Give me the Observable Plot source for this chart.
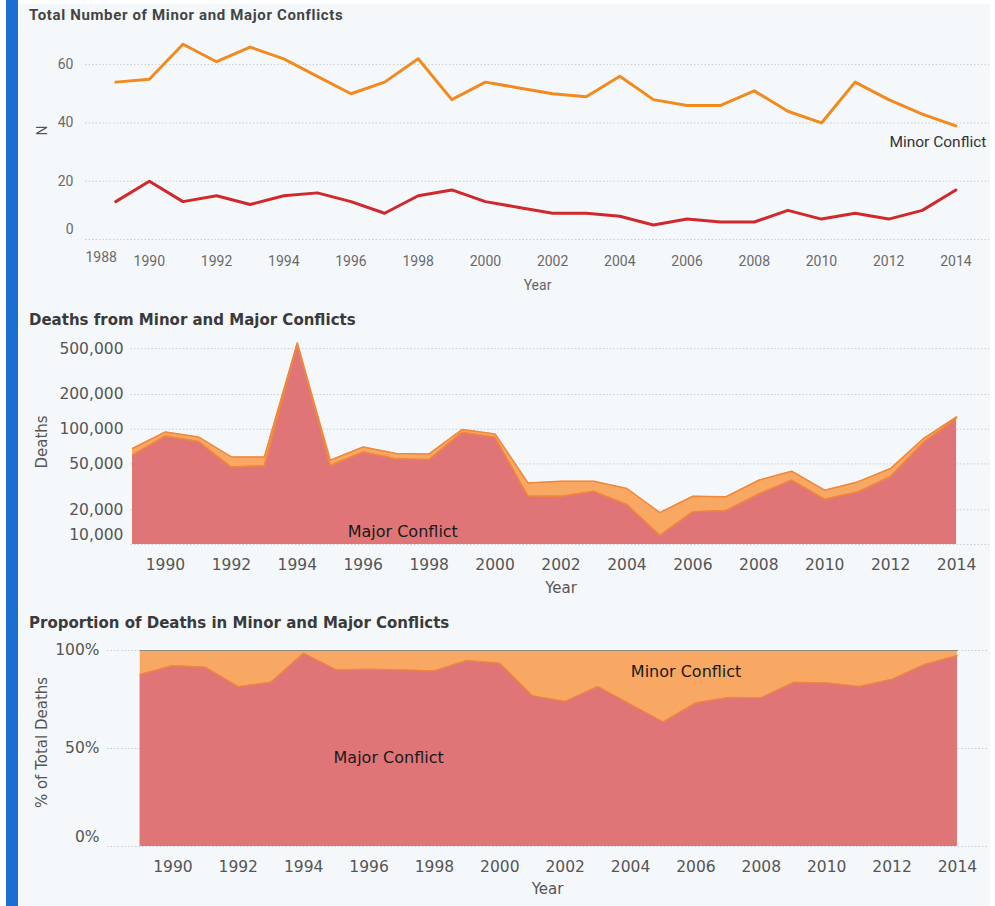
<!DOCTYPE html>
<html>
<head>
<meta charset="utf-8">
<script src="https://cdn.jsdelivr.net/npm/d3@7"></script>
<script src="https://cdn.jsdelivr.net/npm/@observablehq/plot@0.6"></script>
<style>
  html, body { margin: 0; padding: 0; background: #ffffff; }
  #page { position: relative; width: 995px; height: 906px; overflow: hidden; }
  #panel { position: absolute; left: 18px; top: 4px; width: 972px; height: 902px; background: #f5f8fb; }
  #bar { position: absolute; left: 6px; top: 0; width: 12px; height: 906px; background: #1b6fd3; }
  .title { position: absolute; left: 29px; font-weight: 700; white-space: nowrap; }
  #t1 { top: 6px; font-family: Roboto, sans-serif; font-size: 15px; letter-spacing: 0.65px; color: #444; }
  #t2 { top: 311px; font-family: "DejaVu Sans", sans-serif; font-size: 15px; color: #3a3a3a; }
  #t3 { top: 614px; font-family: "DejaVu Sans", sans-serif; font-size: 15px; color: #3a3a3a; }
  .chart { position: absolute; left: 0; }
  #c1 { top: 30px; }
  #c2 { top: 330px; }
  #c3 { top: 635px; }
</style>
</head>
<body>
<div id="page">
  <div id="panel"></div>
  <div id="bar"></div>
  <div class="title" id="t1">Total Number of Minor and Major Conflicts</div>
  <div class="title" id="t2">Deaths from Minor and Major Conflicts</div>
  <div class="title" id="t3">Proportion of Deaths in Minor and Major Conflicts</div>
  <div class="chart" id="c1"></div>
  <div class="chart" id="c2"></div>
  <div class="chart" id="c3"></div>
</div>
<script>
// ---- data ----
const years = [1989, 1990, 1991, 1992, 1993, 1994, 1995, 1996, 1997, 1998, 1999, 2000, 2001,
               2002, 2003, 2004, 2005, 2006, 2007, 2008, 2009, 2010, 2011, 2012, 2013, 2014];
const minorCount = [54, 55, 67, 61, 66, 62, 56, 50, 54, 62, 48, 54, 52,
                    50, 49, 56, 48, 46, 46, 51, 44, 40, 54, 48, 43, 39];
const majorCount = [13, 20, 13, 15, 12, 15, 16, 13, 9, 15, 17, 13, 11,
                    9, 9, 8, 5, 7, 6, 6, 10, 7, 9, 7, 10, 17];
const majorDeaths = [59700, 87500, 78400, 46900, 48200, 552000, 48500, 63500, 55400, 54700, 94300, 85100, 26300,
                     26200, 28900, 22200, 12000, 19200, 19700, 27400, 36200, 24700, 28500, 38900, 77100, 124700];
const minorDeaths = [8300, 7300, 7300, 10600, 9300, 8000, 5300, 6700, 6100, 6300, 5100, 5900, 7900,
                     9200, 6500, 8400, 6900, 7000, 6200, 8700, 7000, 4900, 6400, 6700, 5900, 3300];
const countTicks = [0, 20, 40, 60];
const topYearTicks = [1988, 1990, 1992, 1994, 1996, 1998, 2000, 2002, 2004, 2006, 2008, 2010, 2012, 2014];
const yearTicks = [1990, 1992, 1994, 1996, 1998, 2000, 2002, 2004, 2006, 2008, 2010, 2012, 2014];
const deathTicks = [10000, 20000, 50000, 100000, 200000, 500000];
const shareTicks = [0, 0.5, 1];
const seriesNames = ["Minor Conflict", "Major Conflict"];
// annotation anchors (data space)
const deathsLabel = {year: 1997.2, value: 12800};
const shareLabels = [{name: "Minor Conflict", year: 2005.7, share: 0.89}, {name: "Major Conflict", year: 1996.6, share: 0.45}];

const rows = years.map((y, i) => ({
  year: y,
  minorN: minorCount[i],
  majorN: majorCount[i],
  major: majorDeaths[i],
  minor: minorDeaths[i],
  total: majorDeaths[i] + minorDeaths[i],
  share: majorDeaths[i] / (majorDeaths[i] + minorDeaths[i])
}));

const ORANGE_LINE = "#f28a1e";
const RED_LINE = "#d0282c";
const ORANGE_FILL = "#f8a862";
const RED_FILL = "#e07578";
const EDGE = "#f0873a";
const GRID = {stroke: "#c9ccd0", strokeDasharray: "1.5,2", strokeOpacity: 1, strokeWidth: 1};
const SANS = "'DejaVu Sans', sans-serif";
const FS = 15.5;

// ---- chart 1: counts ----
const x1Domain = [1988.1, 2015];
const c1 = Plot.plot({
  width: 995, height: 270,
  marginTop: 5, marginBottom: 61, marginLeft: 85, marginRight: 6,
  style: {background: "transparent", fontFamily: "Roboto, sans-serif", fontSize: "14px", color: "#6a6a6a", overflow: "visible"},
  x: {domain: x1Domain},
  y: {domain: [0, 70]},
  marks: [
    Plot.gridY(countTicks, GRID),
    Plot.axisY(countTicks.filter(d => d > 0), {tickSize: 0, tickPadding: 12, label: null}),
    Plot.axisY(countTicks.filter(d => d === 0), {tickSize: 0, tickPadding: 12, dy: -10, label: null}),
    Plot.axisX(topYearTicks.filter(d => d > x1Domain[0]), {tickSize: 0, tickPadding: 17, tickFormat: d => String(d), label: null}),
    Plot.text(topYearTicks.filter(d => d < x1Domain[0]), {x: () => x1Domain[0], frameAnchor: "bottom", dy: 22, textAnchor: "start", text: d => String(d), fill: "#6a6a6a", fontSize: 14}),
    Plot.text(["N"], {frameAnchor: "left", dx: -43, dy: -7, rotate: -90, textAnchor: "middle", fill: "#555", fontSize: 14}),
    Plot.text(["Year"], {frameAnchor: "bottom", dy: 50, fill: "#666", fontSize: 14}),
    Plot.line(rows, {x: "year", y: "majorN", stroke: RED_LINE, strokeWidth: 3}),
    Plot.line(rows, {x: "year", y: "minorN", stroke: ORANGE_LINE, strokeWidth: 3}),
    Plot.text(rows.slice(-1), {x: "year", y: "minorN", text: () => seriesNames[0], dx: -18, dy: 16, fill: "#333", fontSize: 15.5})
  ]
});
document.getElementById("c1").append(c1);

// ---- chart 2: deaths (log) ----
const yDeaths = [10000, 600000];
const fmtComma = d3.format(",");
const c2 = Plot.plot({
  width: 995, height: 270,
  marginTop: 9, marginBottom: 56, marginLeft: 132, marginRight: 6,
  style: {background: "transparent", fontFamily: SANS, fontSize: FS + "px", color: "#555", overflow: "visible"},
  x: {domain: [1989, 2015]},
  y: {type: "log", domain: yDeaths, axis: null},
  marks: [
    Plot.gridY(deathTicks, {...GRID, x1: 1988.95}),
    Plot.areaY(rows, {x: "year", y1: yDeaths[0], y2: "total", fill: ORANGE_FILL}),
    Plot.areaY(rows, {x: "year", y1: yDeaths[0], y2: "major", fill: RED_FILL}),
    Plot.line(rows, {x: "year", y: "major", stroke: EDGE, strokeWidth: 1.5}),
    Plot.line(rows, {x: "year", y: "total", stroke: EDGE, strokeWidth: 1.5}),
    Plot.text(deathTicks.filter(d => d > yDeaths[0]), {y: d => d, frameAnchor: "left", textAnchor: "end", dx: -9, text: d => fmtComma(d), fill: "#555", fontSize: FS}),
    Plot.text(deathTicks.filter(d => d === yDeaths[0]), {y: d => d, frameAnchor: "left", textAnchor: "end", dx: -9, dy: -9, text: d => fmtComma(d), fill: "#555", fontSize: FS}),
    Plot.axisX(yearTicks, {tickSize: 0, tickPadding: 14, tickFormat: d => String(d), label: null}),
    Plot.text(["Deaths"], {frameAnchor: "left", dx: -90, rotate: -90, textAnchor: "middle", fill: "#555", fontSize: 15}),
    Plot.text(["Year"], {frameAnchor: "bottom", dy: 48, fill: "#555", fontSize: 15}),
    Plot.text([deathsLabel], {x: "year", y: "value", text: () => seriesNames[1], fill: "#1a1a1a", fontSize: 16})
  ]
});
document.getElementById("c2").append(c2);

// ---- chart 3: proportions ----
const fmtPct = d3.format(".0%");
const c3 = Plot.plot({
  width: 995, height: 271,
  marginTop: 15, marginBottom: 60, marginLeft: 107, marginRight: 8,
  style: {background: "transparent", fontFamily: SANS, fontSize: FS + "px", color: "#555", overflow: "visible"},
  x: {domain: [1988, 2014.92]},
  y: {domain: [0, 1], axis: null},
  marks: [
    Plot.gridY(shareTicks, GRID),
    Plot.areaY(rows, {x: "year", y1: 0, y2: 1, fill: ORANGE_FILL}),
    Plot.areaY(rows, {x: "year", y1: 0, y2: "share", fill: RED_FILL}),
    Plot.line(rows, {x: "year", y: "share", stroke: EDGE, strokeWidth: 1.2}),
    Plot.line(rows, {x: "year", y: 1, stroke: "#8c8c80", strokeWidth: 1.2}),
    Plot.text(shareTicks.filter(d => d > 0), {y: d => d, frameAnchor: "left", textAnchor: "end", dx: -8, text: d => fmtPct(d), fill: "#555", fontSize: FS}),
    Plot.text(shareTicks.filter(d => d === 0), {y: d => d, frameAnchor: "left", textAnchor: "end", dx: -8, dy: -9, text: d => fmtPct(d), fill: "#555", fontSize: FS}),
    Plot.axisX(yearTicks, {tickSize: 0, tickPadding: 14, tickFormat: d => String(d), label: null}),
    Plot.text(["% of Total Deaths"], {frameAnchor: "left", dx: -65, dy: -6, rotate: -90, textAnchor: "middle", fill: "#555", fontSize: 15}),
    Plot.text(["Year"], {frameAnchor: "bottom", dy: 47, fill: "#555", fontSize: 15}),
    Plot.text(shareLabels, {x: "year", y: "share", text: "name", fill: "#1a1a1a", fontSize: 16})
  ]
});
document.getElementById("c3").append(c3);
</script>
</body>
</html>
